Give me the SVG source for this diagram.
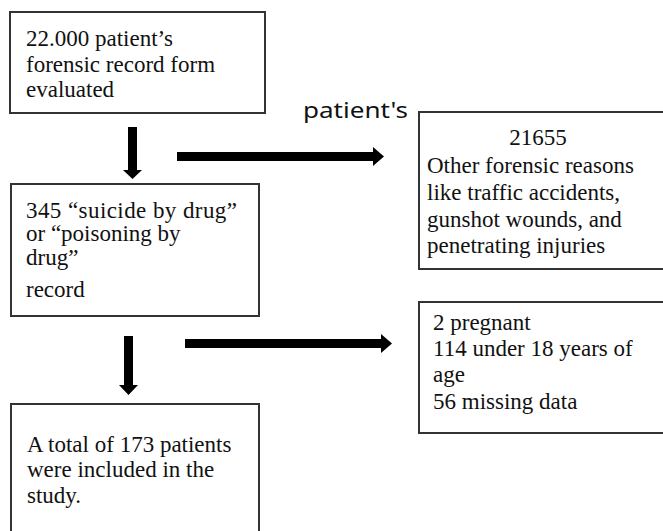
<svg xmlns="http://www.w3.org/2000/svg" width="663" height="531" viewBox="0 0 663 531">
<style>
.box{fill:#fff;stroke:#333;stroke-width:2}
.t{font-family:"Liberation Serif","Times New Roman",serif;font-size:23px;fill:#111}
.lbl{font-family:"Noto Sans","DejaVu Sans",sans-serif;font-size:22px;fill:#111}
.arrow{fill:#000}
</style>
<rect width="663" height="531" fill="#fff"/>
<g id="node-start">
<rect class="box" x="10" y="12" width="255" height="101"/>
<text class="t" x="26" y="46">22.000 patient’s</text>
<text class="t" x="26" y="71.5">forensic record form</text>
<text class="t" x="26" y="97">evaluated</text>
</g>
<g id="node-other">
<rect class="box" x="419" y="112" width="260" height="157"/>
<text class="t" x="538" y="145" text-anchor="middle">21655</text>
<text class="t" x="427" y="173">Other forensic reasons</text>
<text class="t" x="427" y="200">like traffic accidents,</text>
<text class="t" x="427" y="227">gunshot wounds, and</text>
<text class="t" x="427" y="253">penetrating injuries</text>
</g>
<g id="node-drug">
<rect class="box" x="11" y="184" width="248" height="132"/>
<text class="t" x="26" y="218" textLength="211" lengthAdjust="spacing">345 “suicide by drug”</text>
<text class="t" x="26" y="241">or “poisoning by</text>
<text class="t" x="26" y="265">drug”</text>
<text class="t" x="26" y="297">record</text>
</g>
<g id="node-excluded">
<rect class="box" x="419" y="302" width="260" height="131"/>
<text class="t" x="433" y="330">2 pregnant</text>
<text class="t" x="433" y="356">114 under 18 years of</text>
<text class="t" x="433" y="382">age</text>
<text class="t" x="433" y="409">56 missing data</text>
</g>
<g id="node-included">
<rect class="box" x="11" y="404" width="248" height="140"/>
<text class="t" x="27" y="452">A total of 173 patients</text>
<text class="t" x="27" y="477">were included in the</text>
<text class="t" x="27" y="503">study.</text>
</g>
<g id="label-patients">
<text class="lbl" x="303" y="118" textLength="105" lengthAdjust="spacingAndGlyphs">patient's</text>
</g>
<g id="connectors">
<polygon class="arrow" points="128,127 137,127 137,170 142,170 132.5,179 123,170 128,170"/>
<polygon class="arrow" points="177,152 373,152 373,147 384,156.5 373,166 373,161 177,161"/>
<polygon class="arrow" points="124,336 133,336 133,385 138,385 128.5,395 119,385 124,385"/>
<polygon class="arrow" points="185,339 381,339 381,334 392,343.5 381,353 381,348 185,348"/>
</g>
</svg>
